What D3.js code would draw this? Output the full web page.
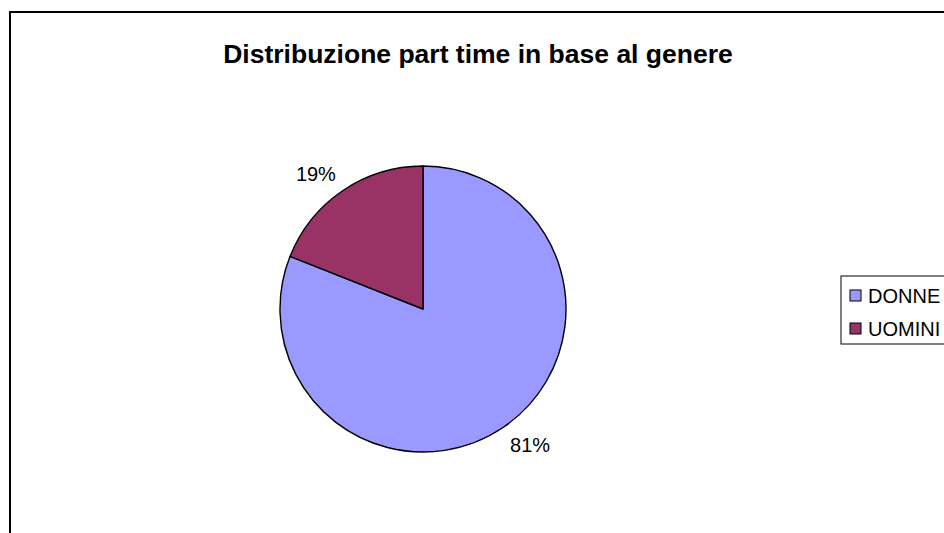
<!DOCTYPE html>
<html>
<head>
<meta charset="utf-8">
<script src="https://cdn.jsdelivr.net/npm/d3@7"></script>
<style>
  html, body { margin: 0; padding: 0; background: #fff; }
  svg { display: block; font-family: Arial, "Liberation Sans", sans-serif; }
</style>
</head>
<body>
<svg id="chart" width="944" height="533"></svg>
<script>
// Part-time distribution by gender
const categories = ["DONNE", "UOMINI"];
const shares = [81, 19];
const sliceColors = ["#9999FF", "#993366"];
const chartTitle = "Distribuzione part time in base al genere";

const width = 944, height = 533;
const cx = 423, cy = 309, radius = 143;

const svg = d3.select("#chart");

// chart area frame (open to the right and bottom)
svg.append("rect")
  .attr("x", 10).attr("y", 12)
  .attr("width", 960).attr("height", 560)
  .attr("fill", "#fff")
  .attr("stroke", "#000")
  .attr("stroke-width", 2);

svg.append("text")
  .attr("x", 478).attr("y", 63)
  .attr("text-anchor", "middle")
  .attr("font-weight", "bold")
  .attr("font-size", 26.5)
  .attr("fill", "#000")
  .text(chartTitle);

const data = categories.map((c, i) => ({ name: c, value: shares[i], color: sliceColors[i] }));

const pie = d3.pie().sort(null).value(d => d.value);
const arcs = pie(data);
const arc = d3.arc().innerRadius(0).outerRadius(radius);

const g = svg.append("g").attr("transform", `translate(${cx},${cy})`);

g.selectAll("path.slice")
  .data(arcs)
  .join("path")
  .attr("class", "slice")
  .attr("d", arc)
  .attr("fill", d => d.data.color)
  .attr("stroke", "#000")
  .attr("stroke-width", 1.4)
  .attr("stroke-linejoin", "round");

// percentage labels just outside each slice, box corner touching the anchor
const labelFont = 20;
g.selectAll("text.pct")
  .data(arcs)
  .join("text")
  .attr("class", "pct")
  .each(function (d) {
    const mid = (d.startAngle + d.endAngle) / 2;
    const r = radius + 12;
    const ax = Math.sin(mid) * r, ay = -Math.cos(mid) * r;
    const w = 40, h = 15;
    const x = ax + Math.sign(ax) * w / 2;
    const y = ay + Math.sign(ay) * h / 2;
    d3.select(this).attr("x", x).attr("y", y).attr("dy", "0.36em");
  })
  .attr("text-anchor", "middle")
  .attr("font-size", labelFont)
  .attr("fill", "#000")
  .text(d => d.data.value + "%");

// legend
const legend = svg.append("g").attr("transform", "translate(841,276)");
legend.append("rect")
  .attr("x", 0).attr("y", 0)
  .attr("width", 140).attr("height", 68)
  .attr("fill", "#fff")
  .attr("stroke", "#000")
  .attr("stroke-width", 1);

const items = legend.selectAll("g.item")
  .data(data)
  .join("g")
  .attr("class", "item")
  .attr("transform", (d, i) => `translate(0,${14 + i * 33})`);

items.append("rect")
  .attr("x", 9).attr("y", 0)
  .attr("width", 11).attr("height", 11)
  .attr("fill", d => d.color)
  .attr("stroke", "#000")
  .attr("stroke-width", 1);

items.append("text")
  .attr("x", 27).attr("y", 12.5)
  .attr("font-size", 20)
  .attr("fill", "#000")
  .text(d => d.name);
</script>
</body>
</html>
